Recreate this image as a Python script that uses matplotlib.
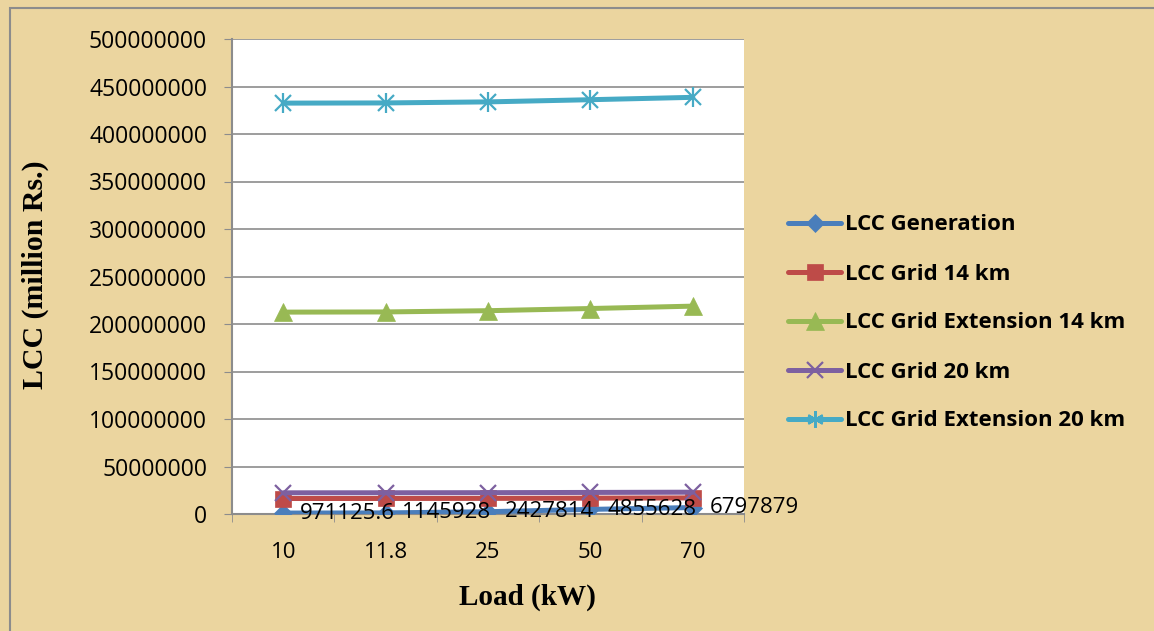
import matplotlib.pyplot as plt
from matplotlib.patches import Rectangle

# --- data ---
loads = ["10", "11.8", "25", "50", "70"]
lcc_generation = [971125.6, 1145928, 2427814, 4855628, 6797879]
lcc_gen_labels = ["971125.6", "1145928", "2427814", "4855628", "6797879"]
lcc_grid_14 = [16300000, 16350000, 16450000, 16700000, 16950000]
lcc_grid_ext_14 = [212500000, 212700000, 214000000, 216300000, 218800000]
lcc_grid_20 = [22300000, 22350000, 22450000, 22700000, 22950000]
lcc_grid_ext_20 = [432500000, 432700000, 433800000, 436100000, 438600000]

series = [
    ("LCC Generation", lcc_generation, "#4a7ebb", "D", 9),
    ("LCC Grid 14 km", lcc_grid_14, "#be4b48", "s", 12),
    ("LCC Grid Extension 14 km", lcc_grid_ext_14, "#98b954", "^", 13),
    ("LCC Grid 20 km", lcc_grid_20, "#7d60a0", "x", 11),
    ("LCC Grid Extension 20 km", lcc_grid_ext_20, "#46aac5", "*", 0),
]

BG = "#ebd59f"
TXT = "Open Sans"
fig = plt.figure(figsize=(11.54, 6.31), dpi=100, facecolor=BG)
fig.patches.append(Rectangle((10 / 1154, -0.1), 1.2, (631 - 8) / 631 + 0.1,
                             transform=fig.transFigure, fill=False,
                             edgecolor="#8c8c8c", linewidth=1.5))

ax = fig.add_axes([232 / 1154, 1 - 514 / 631, 512 / 1154, 475 / 631])
ax.set_facecolor("white")
x = list(range(len(loads)))

handles = []
for name, vals, col, mk, ms in series:
    if mk == "*":
        # Excel style asterisk: x plus vertical bar
        ax.plot(x, vals, color=col, lw=3.6, solid_capstyle="round", zorder=3)
        ax.plot(x, vals, ls="none", marker="x", ms=11, mew=1.6, color=col, zorder=4)
        ax.plot(x, vals, ls="none", marker="|", ms=14, mew=1.6, color=col, zorder=4)
        h, = ax.plot([], [], color=col, lw=3.6, marker=(6, 2, 0), ms=12, mew=1.6,
                     solid_capstyle="round")
        handles.append(h)
    else:
        mew = 1.6 if mk == "x" else 0.5
        line, = ax.plot(x, vals, color=col, lw=3.6, marker=mk, ms=ms, mew=mew,
                        mec=col, mfc=col, solid_capstyle="round", zorder=3)
        handles.append(line)

for xi, v, lbl in zip(x, lcc_generation, lcc_gen_labels):
    ax.annotate(lbl, (xi, v), xytext=(12, 0), textcoords="offset points",
                ha="left", va="center", fontsize=16, family=TXT,
                color="black", zorder=5, annotation_clip=False)

ax.set_xlim(-0.5, 4.5)
ax.set_ylim(0, 500000000)
ax.set_yticks(range(0, 500000001, 50000000))
ax.set_yticklabels([str(v) for v in range(0, 500000001, 50000000)],
                   family=TXT, fontsize=16.5)
ax.set_xticks(x)
ax.set_xticklabels(loads, family=TXT, fontsize=16)
ax.set_xticks([i - 0.5 for i in range(6)], minor=True)
ax.tick_params(axis="x", which="major", length=0, pad=20)
ax.tick_params(axis="x", which="minor", length=6, color="#8c8c8c", direction="out")
ax.tick_params(axis="y", length=6, color="#8c8c8c", direction="out", pad=12)
ax.grid(axis="y", color="#8c8c8c", lw=1.2)
ax.set_axisbelow(True)
for s in ["top", "right"]:
    ax.spines[s].set_visible(False)
for s in ["left", "bottom"]:
    ax.spines[s].set_color("#8c8c8c")
    ax.spines[s].set_linewidth(1.5)

ax.set_xlabel("Load (kW)", family="Liberation Serif", fontweight="bold",
              fontsize=21)
ax.set_ylabel("LCC (million Rs.)", family="Liberation Serif", fontweight="bold",
              fontsize=21.5)
ax.xaxis.set_label_coords((527 - 232) / 512, (514 - 597) / 475)
ax.xaxis.label.set_va("center")
ax.yaxis.set_label_coords((35 - 232) / 512, (514 - 275) / 475)
ax.yaxis.label.set_va("center")

leg = fig.legend(handles, [s[0] for s in series], loc="center left",
                 bbox_to_anchor=(768 / 1154, 1 - 323 / 631), frameon=False,
                 prop={"family": TXT, "weight": "bold", "size": 16},
                 labelspacing=1.26, handlelength=2.4, handletextpad=0.15)

fig.savefig("out.png", dpi=100, facecolor=BG)
